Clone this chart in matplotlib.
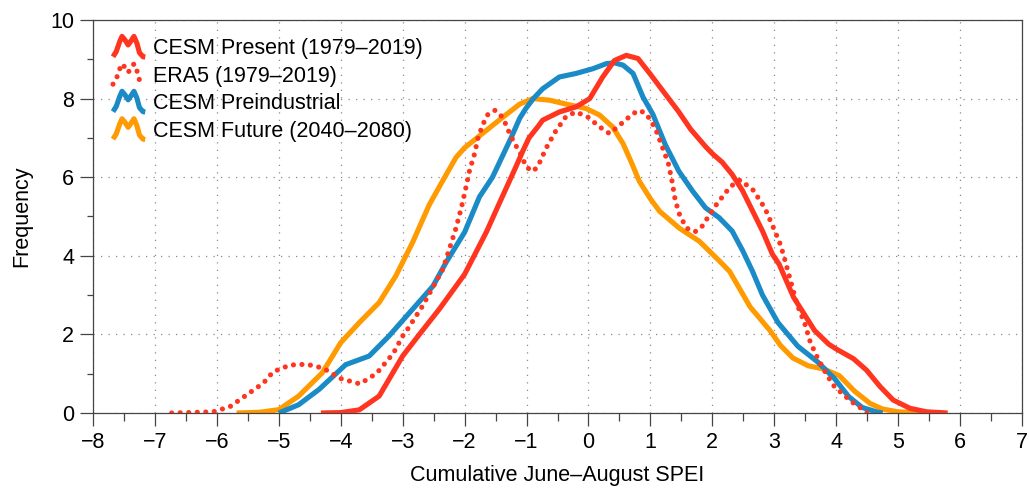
import numpy as np
import matplotlib
matplotlib.use("Agg")
import matplotlib.pyplot as plt
from matplotlib.legend_handler import HandlerLine2D
from matplotlib.lines import Line2D
from matplotlib.ticker import MultipleLocator

plt.rcParams['font.family'] = ['Liberation Sans', 'DejaVu Sans']

# ---------------- data ----------------
present_x = [-4.32, -4.0, -3.7, -3.38, -3.0, -2.73, -2.41, -2.0, -1.65, -1.45, -1.32, -1.19,
             -1.05, -0.96, -0.81, -0.74, -0.47, -0.2, 0.02, 0.23, 0.42, 0.61, 0.8, 0.99,
             1.2, 1.45, 1.65, 1.89, 2.0, 2.16, 2.32, 2.49, 2.65, 2.81, 2.97, 3.08, 3.31,
             3.65, 3.88, 4.01, 4.28, 4.49, 4.71, 4.92, 5.19, 5.46, 5.8]
present_y = [0.0, 0.01, 0.08, 0.43, 1.45, 2.0, 2.64, 3.53, 4.6, 5.3, 5.75, 6.2,
             6.7, 7.0, 7.3, 7.45, 7.66, 7.79, 8.0, 8.55, 8.97, 9.1, 9.02, 8.64,
             8.2, 7.68, 7.22, 6.78, 6.6, 6.38, 6.07, 5.65, 5.14, 4.63, 4.04, 3.78, 2.95,
             2.1, 1.75, 1.62, 1.38, 1.09, 0.67, 0.33, 0.12, 0.03, 0.0]

era5_x = [-6.73, -6.06, -5.79, -5.52, -5.25, -5.09, -4.82, -4.55, -4.28, -4.01, -3.69, -3.42,
          -3.15, -3.0, -2.93, -2.68, -2.35, -2.14, -2.05, -1.97, -1.92, -1.84, -1.78, -1.7,
          -1.62, -1.51, -1.43, -1.35, -1.27, -1.19, -1.11, -1.0, -0.89, -0.81, -0.68, -0.53,
          -0.36, -0.2, -0.01, 0.18, 0.34, 0.5, 0.72, 0.83, 0.94, 1.08, 1.18, 1.29, 1.35, 1.4,
          1.48, 1.59, 1.72, 1.83, 2.04, 2.29, 2.45, 2.66, 2.85, 2.99, 3.09, 3.15, 3.36, 3.5,
          3.58, 3.69, 3.82, 3.95, 4.12, 4.28, 4.44, 4.5]
era5_y = [0.0, 0.03, 0.16, 0.46, 0.76, 1.05, 1.22, 1.24, 1.14, 0.88, 0.74, 1.01,
          1.52, 1.96, 2.11, 2.72, 3.66, 4.7, 5.24, 5.8, 6.17, 6.59, 7.02, 7.36,
          7.61, 7.7, 7.61, 7.4, 7.1, 6.85, 6.64, 6.25, 6.15, 6.3, 6.75, 7.17,
          7.55, 7.66, 7.53, 7.28, 7.11, 7.32, 7.62, 7.7, 7.6, 7.24, 6.82, 6.35, 5.89, 5.42,
          5.0, 4.7, 4.61, 4.74, 5.25, 5.76, 5.93, 5.67, 5.21, 4.7, 4.32, 4.02, 2.8, 2.24,
          1.81, 1.43, 1.05, 0.71, 0.46, 0.25, 0.08, 0.0]

preind_x = [-5.0, -4.68, -4.35, -3.92, -3.54, -3.22, -2.84, -2.51, -2.3, -2.0, -1.76, -1.55,
            -1.43, -1.25, -1.11, -1.01, -0.89, -0.74, -0.47, -0.2, 0.07, 0.29, 0.42, 0.56, 0.72,
            0.88, 1.04, 1.24, 1.46, 1.68, 1.89, 2.11, 2.32, 2.49, 2.65, 2.81, 3.06, 3.38,
            3.7, 3.97, 4.2, 4.42, 4.65, 4.75]
preind_y = [0.0, 0.21, 0.6, 1.23, 1.45, 1.96, 2.64, 3.23, 3.83, 4.6, 5.5, 6.0,
            6.4, 7.0, 7.5, 7.75, 8.0, 8.25, 8.55, 8.64, 8.76, 8.89, 8.91, 8.85, 8.64,
            8.04, 7.6, 6.83, 6.15, 5.65, 5.22, 4.97, 4.63, 4.13, 3.6, 3.0, 2.3, 1.7,
            1.3, 0.88, 0.42, 0.14, 0.03, 0.0]

future_x = [-5.68, -5.3, -5.0, -4.68, -4.3, -4.0, -3.7, -3.38, -3.11, -2.84, -2.57, -2.35,
            -2.14, -2.0, -1.92, -1.65, -1.38, -1.11, -0.9, -0.63, -0.36, -0.04, 0.18, 0.39,
            0.56, 0.7, 0.82, 1.0, 1.15, 1.47, 1.79, 2.12, 2.28, 2.61, 2.93, 3.1, 3.3, 3.55,
            3.8, 4.05, 4.3, 4.55, 4.75, 5.0, 5.47]
future_y = [0.0, 0.02, 0.085, 0.43, 1.02, 1.79, 2.3, 2.81, 3.49, 4.34, 5.3, 5.92,
            6.5, 6.75, 6.85, 7.19, 7.53, 7.86, 8.0, 7.96, 7.86, 7.75, 7.58, 7.28,
            6.85, 6.35, 5.9, 5.45, 5.13, 4.7, 4.37, 3.86, 3.6, 2.7, 2.1, 1.72, 1.4, 1.2,
            1.12, 0.95, 0.55, 0.24, 0.1, 0.03, 0.0]

labels = ["CESM Present (1979\u20132019)", "ERA5 (1979\u20132019)",
          "CESM Preindustrial", "CESM Future (2040\u20132080)"]
colors = ["#FF3520", "#FF3520", "#1A8BC6", "#FF9A00"]

xlabel = "Cumulative June\u2013August SPEI"
ylabel = "Frequency"

# ---------------- legend glyph (bimodal "M" icon) ----------------
class HandlerBump(HandlerLine2D):
    SX = np.array([0.0, 0.1, 0.21, 0.28, 0.37, 0.47, 0.58, 0.65, 0.74, 0.82, 0.93, 1.0])
    SY = np.array([0.0, 0.25, 0.75, 1.0, 0.83, 0.58, 0.83, 1.0, 0.67, 0.2, 0.0, -0.02])

    def create_artists(self, legend, orig_handle, xdescent, ydescent, width, height,
                       fontsize, trans):
        xd = -xdescent + width * self.SX
        yd = -ydescent + height * (-0.15 + 1.35 * self.SY)
        ln = Line2D(xd, yd)
        self.update_prop(ln, orig_handle, legend)
        ln.set_transform(trans)
        return [ln]


fig = plt.figure(figsize=(10.29, 4.88), dpi=100)
ax = fig.add_axes([93 / 1029, 1 - 413 / 488, (1022 - 93) / 1029, (413 - 20) / 488])

lw = 3.7
dot = (0, (0.01, 1.65))
h1, = ax.plot(present_x, present_y, color=colors[0], lw=lw, solid_capstyle='butt',
              solid_joinstyle='round', zorder=3)
h2, = ax.plot(era5_x, era5_y, color=colors[1], lw=lw, linestyle=dot,
              dash_capstyle='round', zorder=4)
h3, = ax.plot(preind_x, preind_y, color=colors[2], lw=lw, solid_capstyle='butt',
              solid_joinstyle='round', zorder=2)
h4, = ax.plot(future_x, future_y, color=colors[3], lw=lw, solid_capstyle='butt',
              solid_joinstyle='round', zorder=1)

ax.set_xlim(-8, 7)
ax.set_ylim(0, 10)
ax.xaxis.set_major_locator(MultipleLocator(1))
ax.xaxis.set_minor_locator(MultipleLocator(0.5))
ax.yaxis.set_major_locator(MultipleLocator(2))
ax.yaxis.set_minor_locator(MultipleLocator(1))

ax.grid(True, which='major', linestyle=(0, (1, 5)), color='#8a8a8a', linewidth=0.9)
ax.set_axisbelow(True)

spine_col = '#444444'
for s in ax.spines.values():
    s.set_color(spine_col)
    s.set_linewidth(0.9)

fs = 15.5
ax.tick_params(axis='both', which='major', direction='out', length=9.5, width=0.9,
               color=spine_col, labelsize=fs, top=False, right=False)
ax.tick_params(axis='x', which='minor', direction='out', length=6, width=0.9,
               color=spine_col, top=False)
ax.tick_params(axis='y', which='minor', direction='out', length=4, width=0.9,
               color=spine_col, right=False)
ax.tick_params(axis='x', which='major', pad=4)
ax.tick_params(axis='y', which='major', pad=4)

ax.set_xlabel(xlabel, fontsize=fs, labelpad=9)
ax.set_ylabel(ylabel, fontsize=fs, labelpad=13)

leg = ax.legend([h1, h2, h3, h4], labels, loc='upper left',
                bbox_to_anchor=(0.0215, 0.953), frameon=False, fontsize=fs,
                handlelength=1.5, handletextpad=0.35, labelspacing=0.3,
                borderpad=0, borderaxespad=0,
                handler_map={Line2D: HandlerBump()})

fig.savefig("out.png", dpi=100)
